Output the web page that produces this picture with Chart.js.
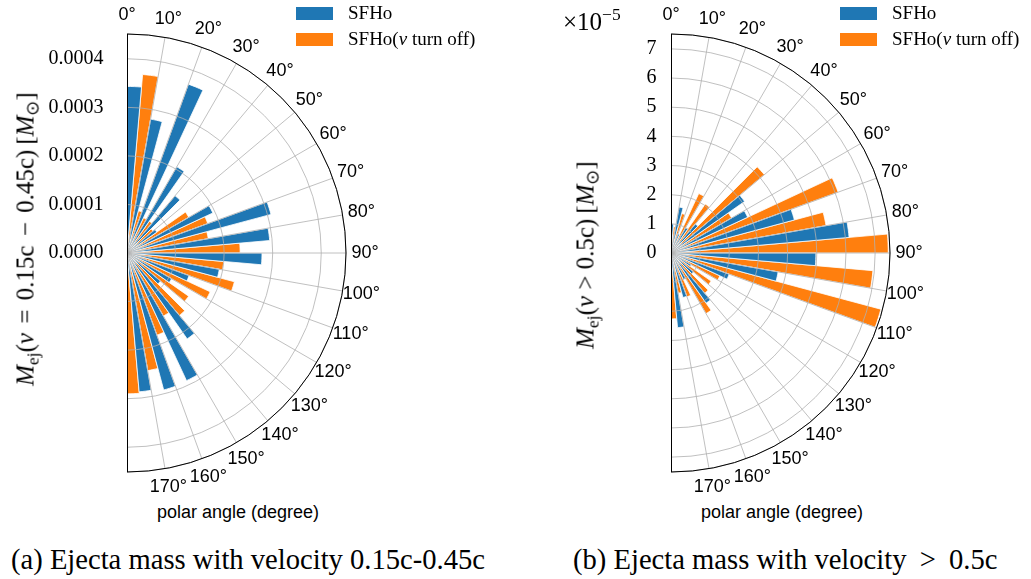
<!DOCTYPE html>
<html>
<head>
<meta charset="utf-8">
<script src="https://cdn.jsdelivr.net/npm/chart.js@4.4.1/dist/chart.umd.min.js"></script>
<style>
  body { margin: 0; background: #fff; }
  #page { position: relative; width: 1031px; height: 579px; overflow: hidden; background: #fff; }
  canvas { position: absolute; }
  .txt { position: absolute; white-space: nowrap; color: #000; font-family: "Liberation Serif", serif; }
  .sans { font-family: "Liberation Sans", sans-serif; }
  .ytitle { font-size: 25px; line-height: 25px; transform: translate(-50%, -50%) rotate(-90deg); }
  .xlabel { font-size: 18px; line-height: 18px; transform: translateX(-50%); }
  .caption { font-size: 28.6px; line-height: 28px; }
  .leg { font-size: 19px; line-height: 20px; }
  .box { position: absolute; width: 37px; height: 13px; }
  .op { margin: 0 3px; }
  .rel { margin: 0 6px; }
  sub { font-size: 70%; vertical-align: -0.3em; line-height: 0; }
  sup { font-size: 70%; vertical-align: 0.55em; line-height: 0; }
</style>
</head>
<body>
<div id="page">
  <canvas id="chartA" width="488" height="498"></canvas>
  <canvas id="chartB" width="488" height="498"></canvas>

  <div class="txt ytitle" style="left:25px; top:239px"><i>M</i><sub>ej</sub>(<i>v</i> <span class="op">=</span> 0.15c <span class="op">−</span> 0.45c)&thinsp;[<i>M</i><sub>⊙</sub>]</div>
  <div class="txt ytitle" style="left:585px; top:255px"><i>M</i><sub>ej</sub>(<i>v</i> &gt; 0.5c)&thinsp;[<i>M</i><sub>⊙</sub>]</div>
  <div class="txt" style="left:563px; top:9px; font-size:25px; line-height:25px">×10<sup>−5</sup></div>

  <div class="box" style="left:296px; top:7px; background:#1f77b4"></div>
  <div class="box" style="left:296px; top:33px; background:#ff7f0e"></div>
  <div class="txt leg" style="left:348px; top:3px">SFHo</div>
  <div class="txt leg" style="left:348px; top:29px">SFHo(<i>ν</i> turn off)</div>

  <div class="box" style="left:840px; top:7px; background:#1f77b4"></div>
  <div class="box" style="left:840px; top:33px; background:#ff7f0e"></div>
  <div class="txt leg" style="left:892px; top:3px">SFHo</div>
  <div class="txt leg" style="left:892px; top:29px">SFHo(<i>ν</i> turn off)</div>

  <div class="txt sans xlabel" style="left:238px; top:503px">polar angle (degree)</div>
  <div class="txt sans xlabel" style="left:782px; top:503px">polar angle (degree)</div>

  <div class="txt caption" style="left:11px; top:546px">(a) Ejecta mass with velocity 0.15c-0.45c</div>
  <div class="txt caption" style="left:573px; top:546px">(b) Ejecta mass with velocity<span class="rel">&nbsp;&gt;</span>&nbsp;0.5c</div>
</div>

<script>
// lower edge of each 10 degree polar-angle bin
const binStarts = [0, 10, 20, 30, 40, 50, 60, 70, 80, 90, 100, 110, 120, 130, 140, 150, 160, 170];
const thetaTicks = ['0°', '10°', '20°', '30°', '40°', '50°', '60°', '70°', '80°',
                    '90°', '100°', '110°', '120°', '130°', '140°', '150°', '160°', '170°'];

// (a) ejecta mass with 0.15c < v < 0.45c  [M_sun]
const rTicksA = ['0.0000', '0.0001', '0.0002', '0.0003', '0.0004'];
const rMaxA = 0.000451;
const sfhoA    = [0.000343, 0.000280, 0.000370, 0.000205, 0.000154, 0.000075, 0.000195, 0.000307, 0.000295,
                  0.000278, 0.000193, 0.000136, 0.000106, 0.000090, 0.000216, 0.000290, 0.000292, 0.000287];
const sfhoOffA = [0.000369, 0.000090, 0.000080, 0.000080, 0.000070, 0.000147, 0.000177, 0.000170, 0.000233,
                  0.000200, 0.000229, 0.000189, 0.000155, 0.000168, 0.000150, 0.000180, 0.000246, 0.000290];

// (b) ejecta mass with v > 0.5c  [1e-5 M_sun]
const rTicksB = ['0', '1', '2', '3', '4', '5', '6', '7'];
const rMaxB = 7.51;
const sfhoB    = [1.0, 1.6, 0.7, 1.0, 1.3, 3.08, 2.9, 4.38, 6.13, 4.97, 3.73, 2.12, 0.8, 1.0, 2.1, 1.0, 1.58, 2.57];
const sfhoOffB = [0.9, 1.4, 2.25, 2.05, 4.18, 2.4, 6.1, 5.4, 7.45, 6.95, 7.45, 1.85, 1.68, 1.8, 2.4, 1.6, 1.4, 2.26];

const BLUE = '#1f77b4';
const ORANGE = '#ff7f0e';
const GRID = '#b0b0b0';

// 72 wedges of 5 degrees around the full circle; only the right half (0-180) carries data
const slotLabels = [];
binStarts.forEach(function (b) { slotLabels.push(b, b + 5); });
binStarts.forEach(function (b) { slotLabels.push(180 + b, 185 + b); });

function toSlots(values, shift) {
    var out = slotLabels.map(function () { return 0; });
    values.forEach(function (v, k) { out[2 * k + shift] = v; });
    return out;
}

// keeps only the right half of the polar area and draws spines + labels like matplotlib
const halfPolar = {
    id: 'halfPolar',
    beforeDraw: function (chart) {
        var r = chart.scales.r, ctx = chart.ctx;
        ctx.save();
        ctx.beginPath();
        ctx.rect(r.xCenter, 0, chart.width, chart.height);
        ctx.clip();
    },
    afterDraw: function (chart, args, opts) {
        var r = chart.scales.r, ctx = chart.ctx;
        ctx.restore();
        ctx.save();
        ctx.strokeStyle = '#000';
        ctx.lineWidth = 1;
        ctx.beginPath();
        ctx.arc(r.xCenter, r.yCenter, r.drawingArea, -Math.PI / 2, Math.PI / 2);
        ctx.stroke();
        ctx.beginPath();
        ctx.moveTo(r.xCenter + 0.5, r.yCenter - r.drawingArea);
        ctx.lineTo(r.xCenter + 0.5, r.yCenter + r.drawingArea);
        ctx.stroke();

        ctx.fillStyle = '#000';
        ctx.font = '20px "Liberation Serif"';
        ctx.textAlign = 'right';
        ctx.textBaseline = 'middle';
        opts.ticks.forEach(function (t) {
            var y = r.yCenter - r.getDistanceFromCenterForValue(parseFloat(t) * opts.unit);
            ctx.fillText(t, r.xCenter - opts.gap, y);
        });

        ctx.font = '18px "Liberation Sans"';
        ctx.textAlign = 'center';
        thetaTicks.forEach(function (t, i) {
            var p = r.getPointPosition(2 * i, r.drawingArea + 19);
            ctx.fillText(t, p.x, p.y);
        });
        ctx.restore();
    }
};

function makeChart(id, blue, orange, rMax, step, ticks, unit, gap, cx, cy) {
    var canvas = document.getElementById(id);
    var chart = new Chart(canvas.getContext('2d'), {
        type: 'polarArea',
        data: {
            labels: slotLabels,
            datasets: [{
                label: 'SFHo',
                data: toSlots(blue, 0),
                backgroundColor: BLUE
            }, {
                label: 'SFHo(ν turn off)',
                data: toSlots(orange, 1),
                backgroundColor: ORANGE
            }]
        },
        options: {
            responsive: false,
            animation: false,
            devicePixelRatio: 1,
            layout: { padding: { left: 0, right: 50, top: 30, bottom: 30 } },
            elements: { arc: { borderWidth: 0.8, borderColor: '#ffffff' } },
            plugins: {
                legend: { display: false },
                tooltip: { enabled: false },
                halfPolar: { ticks: ticks, unit: unit, gap: gap }
            },
            scales: {
                r: {
                    min: 0,
                    max: rMax,
                    startAngle: 0,
                    ticks: { display: false, stepSize: step },
                    pointLabels: { display: false },
                    grid: { circular: true, color: GRID, lineWidth: 0.8, z: 1 },
                    angleLines: {
                        display: true,
                        lineWidth: 0.8,
                        color: function (c) {
                            return (c.index % 2 === 0 && c.index <= 36) ? GRID : 'rgba(0,0,0,0)';
                        }
                    }
                }
            }
        },
        plugins: [halfPolar]
    });
    var r = chart.scales.r;
    canvas.style.left = (cx - r.xCenter) + 'px';
    canvas.style.top = (cy - r.yCenter) + 'px';
    return chart;
}

makeChart('chartA', sfhoA, sfhoOffA, rMaxA, 0.0001, rTicksA, 1, 23.5, 127, 253);
makeChart('chartB', sfhoB, sfhoOffB, rMaxB, 1, rTicksB, 1, 14.5, 671, 253);
</script>
</body>
</html>
